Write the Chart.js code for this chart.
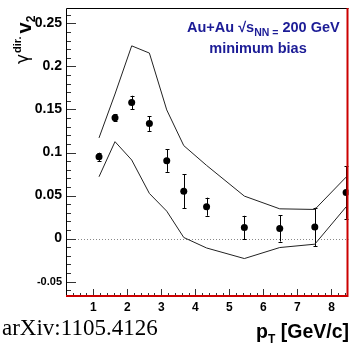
<!DOCTYPE html>
<html>
<head>
<meta charset="utf-8">
<script src="https://cdn.jsdelivr.net/npm/chart.js@4.4.1/dist/chart.umd.min.js"></script>
<style>
html,body{margin:0;padding:0;background:#fff;}
#c{display:block;}
</style>
</head>
<body>
<canvas id="c" width="352" height="346"></canvas>
<script>
// ---- data ----
const PT      = [1.17, 1.64, 2.13, 2.65, 3.16, 3.66, 4.33, 5.44, 6.48, 7.51, 8.43];
const V2      = [0.095, 0.1405, 0.158, 0.1336, 0.0905, 0.055, 0.037, 0.0128, 0.0117, 0.0135, 0.0536];
const V2_ERR  = [0.0048, 0.0043, 0.008, 0.0085, 0.013, 0.02, 0.0105, 0.0136, 0.0152, 0.0223, 0.0307];
const BAND_X  = [1.17, 1.64, 2.13, 2.65, 3.16, 3.66, 4.33, 5.44, 6.48, 7.51, 8.43];
const BAND_HI = [0.117, 0.168, 0.224, 0.2156, 0.1495, 0.108, 0.085, 0.0493, 0.0345, 0.0338, 0.0714];
const BAND_LO = [0.0718, 0.1126, 0.0913, 0.0524, 0.0318, 0.0012, -0.011, -0.0233, -0.0105, -0.0066, 0.0368];
const X_TICKS = [1, 2, 3, 4, 5, 6, 7, 8];
const X_TICK_LABELS = ['1', '2', '3', '4', '5', '6', '7', '8'];
const Y_TICKS = [-0.05, 0, 0.05, 0.1, 0.15, 0.2, 0.25];
const Y_TICK_LABELS = ['-0.05', '0', '0.05', '0.1', '0.15', '0.2', '0.25'];

const SANS = '"Liberation Sans", Arial, Helvetica, sans-serif';

const pts = PT.map((x, i) => ({x: x, y: V2[i]}));
const hi = BAND_X.map((x, i) => ({x: x, y: BAND_HI[i]}));
const lo = BAND_X.map((x, i) => ({x: x, y: BAND_LO[i]}));

const framePlugin = {
  id: 'frame',
  beforeDatasetsDraw(chart) {
    const {ctx, chartArea: a, scales: {x, y}} = chart;
    ctx.save();
    const y0 = Math.round(y.getPixelForValue(0)) + 0.5;
    ctx.strokeStyle = '#888';
    ctx.lineWidth = 1;
    ctx.setLineDash([1, 2]);
    ctx.beginPath(); ctx.moveTo(a.left, y0); ctx.lineTo(a.right, y0); ctx.stroke();
    ctx.setLineDash([]);
    ctx.strokeStyle = '#000';
    ctx.lineWidth = 1;
    PT.forEach((px, i) => {
      const xp = Math.round(x.getPixelForValue(px)) + 0.5;
      const yt = y.getPixelForValue(V2[i] + V2_ERR[i]);
      const yb = y.getPixelForValue(V2[i] - V2_ERR[i]);
      ctx.beginPath();
      ctx.moveTo(xp, yt); ctx.lineTo(xp, yb);
      ctx.moveTo(xp - 2, Math.round(yt) + 0.5); ctx.lineTo(xp + 2, Math.round(yt) + 0.5);
      ctx.moveTo(xp - 2, Math.round(yb) + 0.5); ctx.lineTo(xp + 2, Math.round(yb) + 0.5);
      ctx.stroke();
    });
    ctx.restore();
  },
  afterDraw(chart) {
    const {ctx, chartArea: a, scales: {x, y}} = chart;
    ctx.save();
    ctx.lineWidth = 1;
    ctx.strokeStyle = '#333';
    ctx.beginPath();
    for (let k = -6; k <= 26; k++) {
      const v = k / 100;
      const yp = Math.round(y.getPixelForValue(v)) + 0.5;
      if (yp < a.top || yp > a.bottom) continue;
      const len = (k % 5 === 0) ? 10 : 5;
      ctx.moveTo(a.left, yp); ctx.lineTo(a.left + len, yp);
    }
    for (let k = 1; k <= 42; k++) {
      const v = k / 5;
      const xp = Math.round(x.getPixelForValue(v)) + 0.5;
      if (xp < a.left || xp > a.right) continue;
      const len = (k % 5 === 0) ? 8 : 4;
      ctx.moveTo(xp, a.bottom); ctx.lineTo(xp, a.bottom - len);
    }
    ctx.stroke();
    ctx.strokeStyle = '#000';
    ctx.beginPath();
    ctx.moveTo(a.left + 0.5, a.bottom); ctx.lineTo(a.left + 0.5, a.top + 0.5); ctx.lineTo(a.right, a.top + 0.5);
    ctx.stroke();
    ctx.strokeStyle = '#cc0000';
    ctx.lineWidth = 2;
    ctx.beginPath();
    ctx.moveTo(a.right - 1, a.top); ctx.lineTo(a.right - 1, a.bottom - 1); ctx.lineTo(a.left, a.bottom - 1);
    ctx.stroke();

    ctx.textBaseline = 'alphabetic';
    ctx.textAlign = 'left';
    ctx.fillStyle = 'rgb(28,28,150)';
    let tx = 187, by = 32;
    ctx.font = 'bold 14.5px ' + SANS;
    let s = 'Au+Au \u221As';
    ctx.fillText(s, tx, by); tx += ctx.measureText(s).width;
    ctx.font = 'bold 10.5px ' + SANS;
    s = 'NN =';
    ctx.fillText(s, tx, by + 4); tx += ctx.measureText(s).width;
    ctx.font = 'bold 14.5px ' + SANS;
    ctx.fillText(' 200 GeV', tx, by);
    ctx.textAlign = 'center';
    ctx.fillText('minimum bias', 258, 53);

    ctx.fillStyle = '#000';
    ctx.textAlign = 'left';
    ctx.font = 'bold 19.5px ' + SANS;
    const wP = ctx.measureText('p').width;
    const wR = ctx.measureText(' [GeV/c]').width;
    ctx.font = 'bold 12px ' + SANS;
    const wT = ctx.measureText('T').width;
    let xs = 349 - (wP + wT + wR);
    ctx.font = 'bold 19.5px ' + SANS;
    ctx.fillText('p', xs, 338);
    ctx.font = 'bold 12px ' + SANS;
    ctx.fillText('T', xs + wP, 343);
    ctx.font = 'bold 19.5px ' + SANS;
    ctx.fillText(' [GeV/c]', xs + wP + wT, 338);

    ctx.font = '23px "Liberation Serif", "Times New Roman", serif';
    ctx.fillText('arXiv:1105.4126', 2, 335);

    ctx.translate(31, 64);
    ctx.rotate(-Math.PI / 2);
    let ux = 0;
    ctx.font = '17px "DejaVu Sans", ' + SANS;
    ctx.fillText('\u03B3', ux, -3); ux += ctx.measureText('\u03B3').width + 1;
    ctx.font = 'bold 11px ' + SANS;
    ctx.fillText('dir.', ux, -10); ux += ctx.measureText('dir.').width + 3;
    ctx.font = 'bold 20px ' + SANS;
    ctx.fillText('v', ux, 0); ux += ctx.measureText('v').width;
    ctx.font = 'bold 12px ' + SANS;
    ctx.fillText('2', ux, 4);
    ctx.restore();
  }
};

new Chart(document.getElementById('c'), {
  type: 'scatter',
  data: {
    datasets: [
      {data: pts, showLine: false, pointRadius: 3.5, pointHoverRadius: 3.5,
       backgroundColor: '#000', borderColor: '#000', borderWidth: 0},
      {data: hi, showLine: true, pointRadius: 0, borderColor: '#222', borderWidth: 1, tension: 0, fill: false},
      {data: lo, showLine: true, pointRadius: 0, borderColor: '#222', borderWidth: 1, tension: 0, fill: false}
    ]
  },
  options: {
    responsive: false,
    animation: false,
    devicePixelRatio: 1,
    layout: {padding: {top: 8, right: 1, left: 0, bottom: 0}},
    plugins: {legend: {display: false}, tooltip: {enabled: false}},
    scales: {
      x: {
        type: 'linear', min: 0.2, max: 8.5,
        grid: {display: false, drawTicks: false}, border: {display: false},
        afterBuildTicks: s => { s.ticks = X_TICKS.map(v => ({value: v})); },
        afterFit: s => { s.height = 49; s.paddingLeft = 0; s.paddingRight = 0; },
        ticks: {
          padding: 3, color: '#000', maxRotation: 0, autoSkip: false,
          font: {family: SANS, size: 12, weight: 'bold'},
          callback: (v, i) => X_TICK_LABELS[i]
        }
      },
      y: {
        type: 'linear', min: -0.068, max: 0.268,
        grid: {display: false, drawTicks: false}, border: {display: false},
        afterBuildTicks: s => { s.ticks = Y_TICKS.map(v => ({value: v})); },
        afterFit: s => { s.width = 66; s.paddingTop = 0; s.paddingBottom = 0; },
        ticks: {
          padding: 4, color: '#000', autoSkip: false,
          font: ctx => ({family: SANS, weight: 'bold', size: (ctx.tick && ctx.tick.value < 0) ? 11 : 14}),
          callback: (v, i) => Y_TICK_LABELS[i]
        }
      }
    }
  },
  plugins: [framePlugin]
});
</script>
</body>
</html>
